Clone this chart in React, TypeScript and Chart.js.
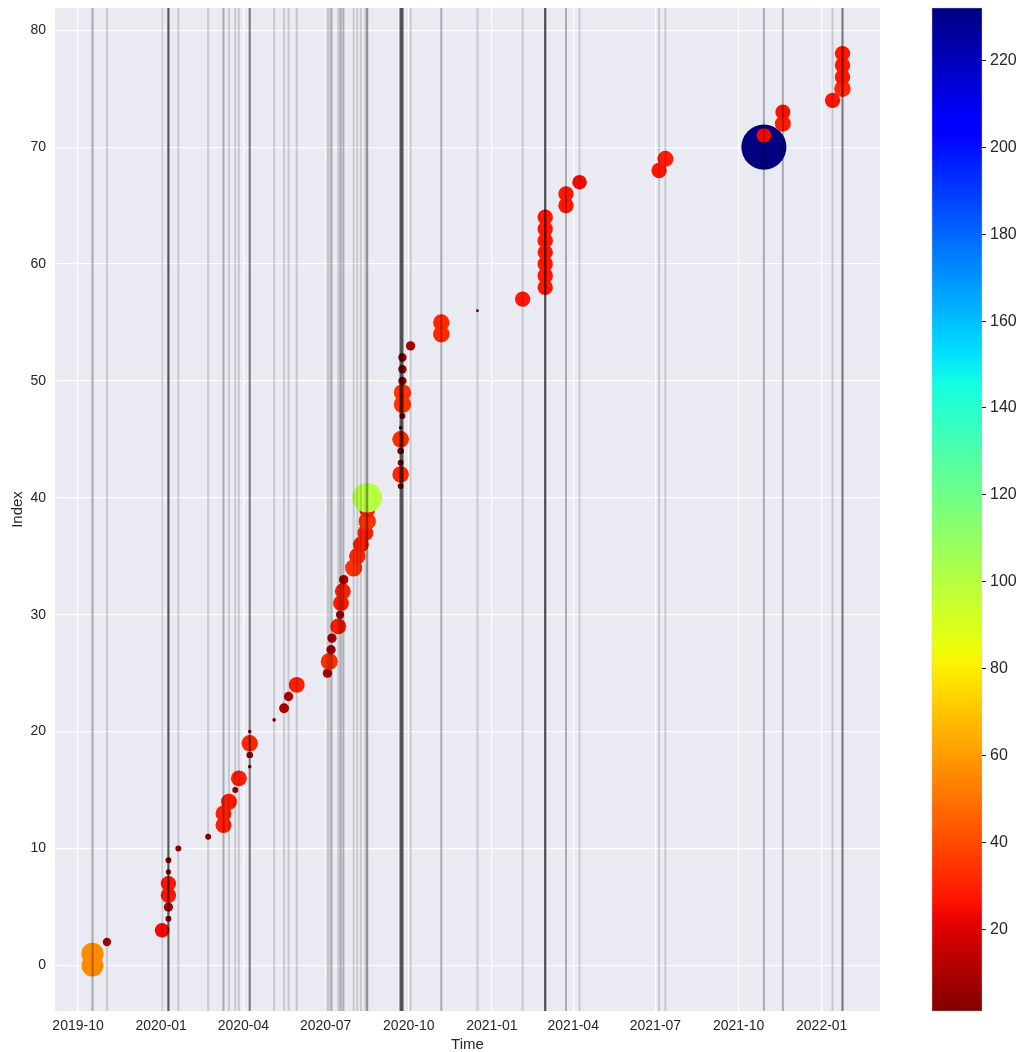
import React, { useEffect, useRef } from 'react';
import { Chart, registerables } from 'chart.js';

Chart.register(...registerables);

const eventDates: string[] = [
  '2019-10-17', '2019-10-17', '2019-11-02', '2020-01-02', '2020-01-09', '2020-01-09', '2020-01-09', '2020-01-09',
  '2020-01-09', '2020-01-09', '2020-01-20', '2020-02-22', '2020-03-10', '2020-03-10', '2020-03-16', '2020-03-23',
  '2020-03-27', '2020-04-08', '2020-04-08', '2020-04-08', '2020-04-08', '2020-05-05', '2020-05-16', '2020-05-21',
  '2020-05-30', '2020-07-03', '2020-07-05', '2020-07-07', '2020-07-08', '2020-07-15', '2020-07-17', '2020-07-18',
  '2020-07-20', '2020-07-21', '2020-08-01', '2020-08-05', '2020-08-09', '2020-08-14', '2020-08-16', '2020-08-16',
  '2020-08-16', '2020-09-22', '2020-09-22', '2020-09-22', '2020-09-22', '2020-09-22', '2020-09-22', '2020-09-24',
  '2020-09-24', '2020-09-24', '2020-09-24', '2020-09-24', '2020-09-24', '2020-10-03', '2020-11-06', '2020-11-06',
  '2020-12-16', '2021-02-04', '2021-03-01', '2021-03-01', '2021-03-01', '2021-03-01', '2021-03-01', '2021-03-01',
  '2021-03-01', '2021-03-24', '2021-03-24', '2021-04-08', '2021-07-05', '2021-07-12', '2021-10-29', '2021-10-29',
  '2021-11-19', '2021-11-19', '2022-01-13', '2022-01-24', '2022-01-24', '2022-01-24', '2022-01-24',
];

const eventIndex: number[] = [
  0, 1, 2, 3, 4, 5, 6, 7, 8, 9, 10, 11, 12, 13, 14, 15, 16, 17, 18, 19,
  20, 21, 22, 23, 24, 25, 26, 27, 28, 29, 30, 31, 32, 33, 34, 35, 36, 37, 38, 39,
  40, 41, 42, 43, 44, 45, 46, 47, 48, 49, 50, 51, 52, 53, 54, 55, 56, 57, 58, 59,
  60, 61, 62, 63, 64, 65, 66, 67, 68, 69, 70, 71, 72, 73, 74, 75, 76, 77, 78,
];

const eventValues: number[] = [
  55, 56, 8, 24, 4, 10, 27, 27, 3, 4, 4, 4, 29, 29, 29, 4, 29, 1.5, 5, 31,
  1.5, 1.5, 11, 10, 29, 10, 33, 10, 10, 29, 8, 29, 29, 10, 34, 31, 29, 29, 34, 29,
  100, 4, 31, 4, 5, 32, 1.5, 4, 34, 34, 8, 8, 8, 10, 31, 31, 1, 27, 27, 27,
  27, 27, 27, 27, 27, 27, 27, 24, 27, 29, 232, 24, 29, 26, 27, 31, 27, 27, 27,
];

const xTickDates: string[] = [
  '2019-10-01', '2020-01-01', '2020-04-01', '2020-07-01', '2020-10-01',
  '2021-01-01', '2021-04-01', '2021-07-01', '2021-10-01', '2022-01-01',
];
const yTicks: number[] = [0, 10, 20, 30, 40, 50, 60, 70, 80];
const cbTicks: number[] = [20, 40, 60, 80, 100, 120, 140, 160, 180, 200, 220];

const FONT = "'Liberation Sans', Arial, sans-serif";
const TEXT = '#262626';

// matplotlib "jet" segment data
const JET = {
  r: [[0, 0], [0.35, 0], [0.66, 1], [0.89, 1], [1, 0.5]],
  g: [[0, 0], [0.125, 0], [0.375, 1], [0.64, 1], [0.91, 0], [1, 0]],
  b: [[0, 0.5], [0.11, 1], [0.34, 1], [0.65, 0], [1, 0]],
};
function seg(pts: number[][], t: number): number {
  for (let i = 1; i < pts.length; i++) {
    if (t <= pts[i][0]) {
      const [x0, y0] = pts[i - 1];
      const [x1, y1] = pts[i];
      return y0 + ((t - x0) / (x1 - x0)) * (y1 - y0);
    }
  }
  return pts[pts.length - 1][1];
}
function jet(t: number): string {
  const c = Math.max(0, Math.min(1, t));
  const r = Math.round(seg(JET.r, c) * 255);
  const g = Math.round(seg(JET.g, c) * 255);
  const b = Math.round(seg(JET.b, c) * 255);
  return `rgb(${r},${g},${b})`;
}

const times = eventDates.map((d) => Date.parse(d));
const tMin = Math.min(...times);
const tMax = Math.max(...times);
const xMin = tMin - 0.05 * (tMax - tMin);
const xMax = tMax + 0.05 * (tMax - tMin);
const iMin = Math.min(...eventIndex);
const iMax = Math.max(...eventIndex);
const yMin = iMin - 0.05 * (iMax - iMin);
const yMax = iMax + 0.05 * (iMax - iMin);
const vMin = Math.min(...eventValues);
const vMax = Math.max(...eventValues);

// jet_r: low values -> dark red, high -> navy
const colorFor = (v: number) => jet(1 - (v - vMin) / (vMax - vMin));
const radiusFor = (v: number) => 1.48 * Math.sqrt(v);

const pad2 = (n: number) => (n < 10 ? '0' + n : '' + n);

export default function App() {
  const ref = useRef<HTMLCanvasElement | null>(null);

  useEffect(() => {
    if (!ref.current) return;

    const bgPlugin = {
      id: 'bgPlugin',
      beforeDraw(chart: any) {
        const { ctx, chartArea } = chart;
        ctx.save();
        ctx.fillStyle = '#EAEAF2';
        ctx.fillRect(chartArea.left, chartArea.top, chartArea.right - chartArea.left, chartArea.bottom - chartArea.top);
        ctx.restore();
      },
    };

    const vlinePlugin = {
      id: 'vlinePlugin',
      afterDatasetsDraw(chart: any) {
        const { ctx, chartArea } = chart;
        const xs = chart.scales.x;
        ctx.save();
        ctx.beginPath();
        ctx.rect(chartArea.left, chartArea.top, chartArea.right - chartArea.left, chartArea.bottom - chartArea.top);
        ctx.clip();
        ctx.strokeStyle = 'rgba(0,0,0,0.15)';
        ctx.lineWidth = 2;
        times.forEach((t) => {
          const x = xs.getPixelForValue(t);
          ctx.beginPath();
          ctx.moveTo(x, chartArea.top);
          ctx.lineTo(x, chartArea.bottom);
          ctx.stroke();
        });
        ctx.restore();
      },
    };

    const colorbarPlugin = {
      id: 'colorbarPlugin',
      afterDraw(chart: any) {
        const { ctx, chartArea } = chart;
        const cb = chart.scales.cb;
        const top = cb.getPixelForValue(vMax);
        const bottom = cb.getPixelForValue(vMin);
        const x0 = chartArea.right + 52;
        const w = 50;
        ctx.save();
        const grad = ctx.createLinearGradient(0, top, 0, bottom);
        const N = 64;
        for (let i = 0; i <= N; i++) {
          grad.addColorStop(i / N, jet(i / N));
        }
        ctx.fillStyle = grad;
        ctx.fillRect(x0, top, w, bottom - top);
        ctx.strokeStyle = 'rgba(200,200,210,0.5)';
        ctx.lineWidth = 0.8;
        ctx.strokeRect(x0, top, w, bottom - top);
        ctx.fillStyle = TEXT;
        ctx.strokeStyle = TEXT;
        ctx.lineWidth = 1;
        ctx.font = `16px ${FONT}`;
        ctx.textAlign = 'left';
        ctx.textBaseline = 'middle';
        cbTicks.forEach((v) => {
          const y = Math.round(cb.getPixelForValue(v)) + 0.5;
          ctx.beginPath();
          ctx.moveTo(x0 + w, y);
          ctx.lineTo(x0 + w + 4, y);
          ctx.stroke();
          ctx.fillText(String(v), x0 + w + 8, y);
        });
        ctx.restore();
      },
    };

    const chart = new Chart(ref.current, {
      type: 'scatter',
      data: {
        datasets: [
          {
            data: times.map((t, i) => ({ x: t, y: eventIndex[i] })),
            backgroundColor: eventValues.map(colorFor),
            borderWidth: 0,
            pointRadius: eventValues.map(radiusFor),
            pointHoverRadius: eventValues.map(radiusFor),
          },
        ],
      },
      options: {
        responsive: false,
        devicePixelRatio: 1,
        animation: false,
        events: [],
        layout: { autoPadding: false, padding: { top: 8, right: 141, left: 0, bottom: 0 } },
        plugins: {
          legend: { display: false },
          tooltip: { enabled: false },
        },
        scales: {
          x: {
            type: 'linear',
            min: xMin,
            max: xMax,
            border: { display: false },
            grid: { color: '#FFFFFF', lineWidth: 1.2, drawTicks: false },
            afterBuildTicks: (s: any) => {
              s.ticks = xTickDates.map((d) => ({ value: Date.parse(d) }));
            },
            afterFit: (s: any) => {
              s.height = 41;
              s.paddingLeft = 0;
              s.paddingRight = 0;
              s.paddingTop = 0;
              s.paddingBottom = 0;
            },
            ticks: {
              autoSkip: false,
              maxRotation: 0,
              padding: 7,
              color: TEXT,
              font: { family: FONT, size: 14 },
              callback: (v: any) => {
                const d = new Date(Number(v));
                return `${d.getUTCFullYear()}-${pad2(d.getUTCMonth() + 1)}`;
              },
            },
            title: {
              display: true,
              text: 'Time',
              color: TEXT,
              font: { family: FONT, size: 15, lineHeight: 1 },
              padding: { top: 0, bottom: 0 },
            },
          },
          y: {
            type: 'linear',
            min: yMin,
            max: yMax,
            border: { display: false },
            grid: { color: '#FFFFFF', lineWidth: 1.2, drawTicks: false },
            afterBuildTicks: (s: any) => {
              s.ticks = yTicks.map((v) => ({ value: v }));
            },
            afterFit: (s: any) => {
              s.width = 55;
              s.paddingLeft = 0;
              s.paddingRight = 0;
              s.paddingTop = 0;
              s.paddingBottom = 0;
            },
            ticks: {
              padding: 9,
              color: TEXT,
              font: { family: FONT, size: 14 },
              callback: (v: any) => String(v),
            },
            title: {
              display: true,
              text: 'Index',
              color: TEXT,
              font: { family: FONT, size: 15, lineHeight: 1.2 },
              padding: { top: 9, bottom: 0 },
            },
          },
          cb: {
            type: 'linear',
            axis: 'y',
            position: 'right',
            display: false,
            min: vMin,
            max: vMax,
          },
        },
      } as any,
      plugins: [bgPlugin, vlinePlugin, colorbarPlugin],
    });

    return () => chart.destroy();
  }, []);

  return (
    <div style={{ position: 'absolute', left: 0, top: 0, width: 1021, height: 1052, background: '#FFFFFF' }}>
      <canvas ref={ref} width={1021} height={1052} style={{ display: 'block', width: 1021, height: 1052 }} />
    </div>
  );
}
